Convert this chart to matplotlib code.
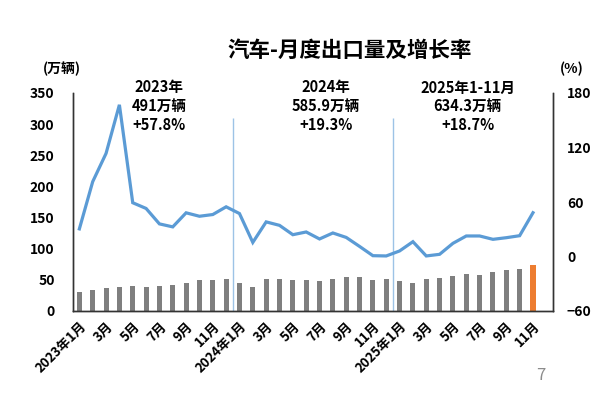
import matplotlib
matplotlib.use("Agg")
import matplotlib.pyplot as plt
import numpy as np

plt.rcParams['font.family'] = ['Noto Sans CJK SC', 'DejaVu Sans']
plt.rcParams['font.weight'] = 'bold'

# ---- data ----
month_labels = (["2023年1月", "", "3月", "", "5月", "", "7月", "", "9月", "", "11月", "",
                 "2024年1月", "", "3月", "", "5月", "", "7月", "", "9月", "", "11月", "",
                 "2025年1月", "", "3月", "", "5月", "", "7月", "", "9月", "", "11月"])
exports = [30.7, 33.9, 36.7, 38.8, 40.4, 38.8, 40.4, 42.0, 45.2, 49.6, 49.6, 51.2,
           44.7, 38.8, 51.2, 51.2, 49.6, 49.6, 48.0, 51.2, 54.4, 54.4, 49.6, 51.2,
           48.0, 44.7, 51.2, 52.8, 56.5, 59.3, 57.7, 62.5, 65.8, 67.4, 73.7]
growth = [30.4, 82.4, 113.5, 167.0, 59.2, 52.9, 35.9, 32.6, 48.1, 44.3, 46.2, 54.7,
          47.3, 15.5, 38.1, 34.3, 24.0, 27.0, 19.3, 25.9, 21.0, 11.1, 0.9, 0.6,
          6.1, 16.3, 0.6, 2.4, 14.5, 22.6, 22.6, 18.9, 20.7, 22.9, 48.2]
year_breaks = [11.5, 23.5]
annotations = [(6, "2023年\n491万辆\n+57.8%"),
               (18.5, "2024年\n585.9万辆\n+19.3%"),
               (29.1, "2025年1-11月\n634.3万辆\n+18.7%")]
left_ticks = [0, 50, 100, 150, 200, 250, 300, 350]
right_ticks = [-60, 0, 60, 120, 180]

W, H = 615, 398
fig = plt.figure(figsize=(W / 100, H / 100), dpi=100)
ax = fig.add_axes([72.7 / W, 1 - 311 / H, (553 - 72.7) / W, (311 - 93) / H])
ax2 = ax.twinx()

x = np.arange(len(exports))
colors = ['#7F7F7F'] * (len(exports) - 1) + ['#ED7D31']
ax.bar(x, exports, width=0.38, color=colors, zorder=2)
ax.vlines(year_breaks, 0, 310, color='#9DC3E6', lw=1.0, zorder=1)

ax2.plot(x, growth, color='#5B9BD5', lw=2.3, solid_joinstyle='miter', zorder=3)

ax.set_xlim(-0.5, 35.5)
ax.set_ylim(0, 350)
ax2.set_ylim(-60, 180)
ax.set_yticks(left_ticks)
ax2.set_yticks(right_ticks)
ax.set_xticks(x)
ax.set_xticklabels(month_labels, rotation=45, ha='right', rotation_mode='anchor',
                   fontsize=9.5, fontweight='bold')
ax.tick_params(axis='x', length=0, pad=6)
ax.tick_params(axis='y', length=0, pad=13, labelsize=10)
ax2.tick_params(axis='y', length=0, pad=10, labelsize=10)
for lab in ax.get_yticklabels() + ax2.get_yticklabels():
    lab.set_fontweight('bold')

for a in (ax, ax2):
    a.spines['top'].set_visible(False)
    for s in ('left', 'right', 'bottom'):
        a.spines[s].set_color('#333333')
        a.spines[s].set_linewidth(1.0)
    a.patch.set_visible(False)

for xp, txt in annotations:
    ax.text(xp, 329, txt, ha='center', va='center', fontsize=10.5,
            fontweight='bold', linespacing=1.2, zorder=5)

fig.text(350 / W, 1 - 50 / H, "汽车-月度出口量及增长率", ha='center', va='center',
         fontsize=15.5, fontweight='bold')
fig.text(62 / W, 1 - 69 / H, "(万辆)", ha='center', va='center', fontsize=10,
         fontweight='bold')
fig.text(572 / W, 1 - 69 / H, "(%)", ha='center', va='center', fontsize=10,
         fontweight='bold')
fig.text(541 / W, 1 - 375 / H, "7", ha='center', va='center', fontsize=12,
         fontweight='normal', color='#8C8C8C')

fig.savefig("out.png", dpi=100)
